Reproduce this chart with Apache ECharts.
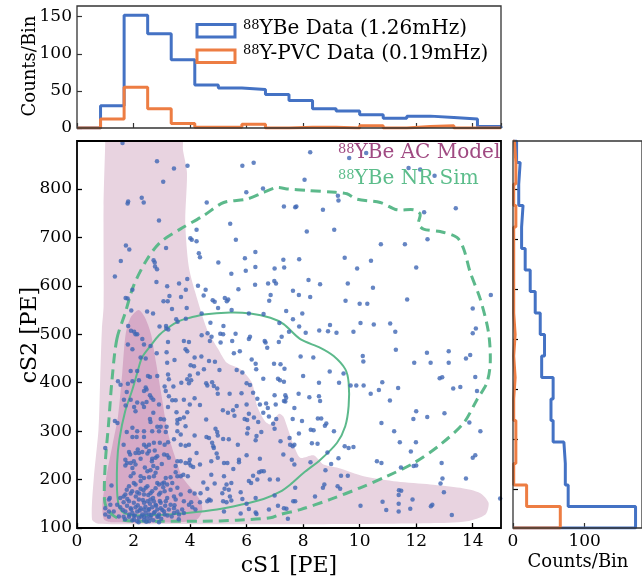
<!DOCTYPE html>
<html><head><meta charset="utf-8">
<script src="https://cdn.jsdelivr.net/npm/echarts@6/dist/echarts.min.js"></script>
<style>html,body{margin:0;padding:0;background:#fff}#c{width:642px;height:578px}</style>
</head><body><div id="c"></div>
<script>
// ---------------- DATA ----------------
const cs1TickLabels = [0, 2, 4, 6, 8, 10, 12, 14];
const cs2TickLabels = [100, 200, 300, 400, 500, 600, 700, 800];
const rightHistTicks = [200, 300, 400, 500, 600, 700, 800];

// Top histogram (cS1), 18 bins
const topEdges = [0,0.833,1.667,2.5,3.333,4.167,5,5.833,6.667,7.5,8.333,9.167,10,10.833,11.667,12.5,13.333,14.167,15];
const topYBe   = [0,30,152,127,92,58,54,52,45,37,26,23,18,13,16,14,12,2];
const topPVC   = [0,12,55,26,6,1,1,5,0,1,1,0,3,0,2,3,0,0];

// Right histogram (cS2), 18 bins, bottom to top
const rightEdges = [122,165.1,208.1,251.2,294.2,337.3,380.3,423.4,466.4,509.5,552.5,595.6,638.6,681.7,724.7,767.8,810.8,853.9,897];
const rightYBe   = [171,77,73,71,56,53,56,40,44,38,31,24,17,12,14,8,10,5];
const rightPVC   = [66,19,1,4,4,1,3,1,3,1,1,1,1,1,4,1,4,2];

// AC model region (outer, light) [cS1, cS2]
const acOuter = [[1.0,930],[3.66,930],[3.75,880],[3.89,834],[3.83,731],[3.95,641],[4.18,587],[4.6,510],[5.0,469],[5.3,441],[5.78,428],[6.19,400],[6.37,352],[6.66,320],[6.84,314],[7.0,326],[7.15,336],[7.3,330],[7.43,310],[7.66,272],[7.9,245],[8.37,250],[8.72,231],[9.25,224],[10.14,207],[11.32,196],[12.5,190],[13.56,183],[14.27,172],[14.56,152],[14.45,128],[13.8,114],[12.5,110],[8.0,108],[4.0,108],[0.75,109],[0.53,118],[0.59,200],[0.76,303],[0.82,407],[0.88,510],[0.94,558],[0.94,765],[1.0,900]];
// AC model region (inner, dark)
const acInner = [[2.18,550],[2.4,535],[2.62,500],[2.8,440],[3.0,370],[3.19,303],[3.45,250],[3.73,205],[4.1,178],[4.38,155],[4.43,135],[4.25,118],[3.6,112],[1.2,112],[0.95,118],[0.9,150],[1.05,210],[1.25,270],[1.45,330],[1.6,420],[1.72,500],[1.9,535]];
// NR sim contours
const nrInner = [[3.19,512],[3.6,527],[3.99,534],[4.48,541],[5.42,545],[6.13,543],[6.84,534],[7.31,521],[7.9,490],[8.61,472],[9.08,455],[9.49,428],[9.61,400],[9.61,352],[9.49,310],[9.2,276],[8.61,241],[8.02,214],[7.55,190],[7.19,175],[6.6,160],[5.79,148],[4.95,138],[3.9,131],[2.9,127],[1.9,127],[1.55,137],[1.43,165],[1.42,234],[1.5,283],[1.7,340],[1.96,386],[2.13,420],[2.3,452],[2.6,476],[2.9,498]];
const nrOuter = [[1.41,490],[1.71,545],[2.0,600],[2.48,655],[2.95,690],[3.65,717],[4.48,745],[5.19,772],[6.01,779],[6.6,793],[7.07,803],[7.43,800],[8.14,797],[9.14,793],[9.55,790],[9.9,779],[10.73,772],[11.32,757],[11.91,757],[12.14,748],[12.08,728],[12.26,717],[12.85,712],[13.44,700],[13.68,676],[13.91,628],[14.27,572],[14.56,503],[14.62,441],[14.5,400],[14.15,365],[13.68,317],[12.85,272],[11.91,234],[10.97,207],[10.02,183],[8.96,159],[7.9,138],[7.19,128],[6.84,121],[5.66,116],[4.48,114],[2.71,114],[1.65,116],[1.3,125],[1.06,140],[0.97,160],[1.0,234],[1.12,317],[1.24,407]];

// 88YBe data events [cS1, cS2]
const ybeEvents = [
[1.61,895],[2.83,857],[3.43,842],[3.91,848],[5.85,848],[6.25,854],[3.05,815],[2.29,782],[2.36,772],[1.79,770],[1.81,774],[2.9,735],[4.59,772],[5.99,793],[6.58,801],[7.32,764],[1.73,683],[1.85,675],[1.55,651],[1.34,619],[2.71,653],[2.75,648],[2.76,640],[2.83,634],[3.15,678],[2.81,608],[3.19,599],[3.61,605],[3.9,614],[3.85,592],[3.27,579],[3.06,568],[3.21,568],[3.36,552],[3.68,577],[3.88,554],[4.23,692],[4.31,667],[4.35,659],[4.06,695],[4.01,698],[4.23,716],[5.42,728],[5.62,695],[5.94,657],[6.31,670],[5.0,648],[5.46,625],[5.97,631],[6.31,639],[6.99,636],[7.3,654],[6.76,605],[6.98,610],[7.04,605],[6.3,602],[5.71,593],[4.28,600],[4.48,580],[4.55,592],[4.8,570],[4.87,567],[5.23,575],[5.3,568],[5.35,572],[4.99,554],[5.47,550],[1.72,575],[1.79,574],[1.96,592],[2.48,547],[2.69,543],[1.92,549],[6.8,569],[6.85,581],[6.08,543],[6.6,542],[7.16,523],[4.72,524],[5.18,517],[4.41,543],[3.85,532],[3.51,531],[3.56,526],[2.92,516],[3.15,517],[2.02,505],[1.91,507],[1.81,517],[4.62,502],[5.07,501],[3.16,512],[3.23,510],
[8.25,876],[9.63,864],[10.23,874],[11.73,843],[12.14,840],[12.65,827],[8.05,819],[7.72,762],[7.76,764],[8.70,757],[9.25,776],[9.23,786],[12.28,752],[13.40,760],[8.13,712],[9.10,716],[10.75,686],[11.60,686],[12.40,696],[7.86,655],[9.47,658],[9.91,636],[10.40,652],[12.0,638],[8.19,612],[8.60,603],[9.58,605],[10.47,596],[7.64,590],[7.85,581],[8.25,577],[9.50,569],[10.0,563],[10.27,563],[11.68,572],[14.64,581],[7.40,548],[7.97,543],[14.0,553],[7.64,531],[7.86,516],[8.95,519],[10.03,523],[10.50,520],[11.08,522],[8.57,508],[8.88,506],[9.18,503],[9.78,505],[11.26,505],[7.50,505],[8.09,503],[14.11,512],[14.0,502],[7.33,638],
[12.38,462],[13.15,465],[11.28,468],[10.11,455],[10.13,444],[8.36,452],[7.91,454],[13.91,457],[13.76,450],[11.93,441],[12.51,441],[13.15,441],[8.94,423],[9.43,419],[8.0,414],[14.09,412],[12.83,409],[12.92,411],[8.56,400],[9.27,400],[9.68,394],[9.88,394],[10.14,394],[10.8,401],[11.36,389],[10.68,385],[10.39,377],[13.31,388],[13.56,391],[14.15,383],[7.37,374],[7.84,377],[8.22,370],[8.56,372],[8.6,362],[7.4,369],[7.37,361],[11.07,363],[7.69,348],[12.0,341],[13.0,337],[7.63,325],[7.96,321],[8.52,326],[8.64,326],[8.82,316],[8.77,311],[11.9,325],[12.39,329],[10.77,317],[13.88,318],[14.27,300],[7.85,295],[8.27,303],[8.37,302],[9.09,300],[11.22,300],[7.52,286],[8.31,275],[8.51,274],[7.54,272],[7.63,269],[7.69,272],[9.47,269],[9.61,265],[9.78,267],[11.42,277],[11.99,277],[14.09,250],[14.0,245],[11.81,258],[7.60,241],[7.69,231],[8.86,256],[8.26,236],[9.25,244],[10.61,238],[10.77,234],[12.0,229],[11.91,228],[11.46,225],[12.9,234],[13.76,202],[8.79,219],[8.99,232],[9.34,208],[9.58,208],[12.93,202],[12.86,192],[8.75,190],[8.7,183],[9.22,186],[9.31,181],[7.72,183],[11.39,178],[11.47,177],[12.98,174],[8.42,165],[10.03,146],[10.81,154],[11.38,168],[11.38,150],[11.87,159],[12.57,148],[12.52,145],[7.72,155],[7.65,155],[10.94,137],[11.38,134],[11.79,140],[13.26,127],[7.41,140],[7.46,119],[14.97,161],
[2.07,500],[2.13,500],[2.31,490],[1.80,479],[1.96,469],[2.60,476],[2.82,461],[2.37,479],[2.25,452],[2.43,450],[3.17,463],[3.22,484],[3.78,486],[3.84,469],[3.19,441],[3.45,447],[1.90,424],[2.13,424],[2.19,405],[1.96,403],[2.51,414],[2.58,412],[2.84,414],[1.45,403],[1.54,396],[1.80,398],[3.22,417],[3.25,407],[3.69,400],[3.90,407],[2.43,390],[2.46,386],[2.37,383],[3.10,392],[3.14,383],[3.41,392],[2.58,374],[2.63,369],[2.70,365],[1.76,381],[1.66,365],[1.90,365],[2.13,359],[2.32,357],[2.46,360],[2.90,355],[3.25,372],[3.37,364],[3.49,364],[3.78,365],[1.72,353],[2.02,350],[2.07,341],[2.37,350],[3.22,350],[3.52,339],[3.78,328],[2.70,338],[2.58,325],[2.60,319],[2.96,325],[3.08,324],[1.34,321],[1.43,317],[1.96,307],[2.84,309],[2.96,309],[3.17,309],[3.55,323],[3.64,325],[3.55,316],[3.84,310],
[4.41,498],[4.70,486],[4.76,495],[5.17,500],[5.61,501],[5.08,483],[5.49,486],[6.12,495],[6.08,490],[6.64,486],[6.67,483],[6.73,472],[7.14,484],[7.24,495],[3.96,484],[3.90,465],[4.16,452],[4.40,454],[4.67,445],[4.88,443],[5.55,461],[5.76,465],[6.18,448],[6.32,439],[6.34,428],[6.97,439],[7.20,438],[7.34,429],[4.02,436],[4.14,434],[4.49,428],[5.04,426],[5.65,426],[5.85,421],[7.11,408],[7.18,405],[7.32,402],[6.59,408],[4.28,419],[3.99,415],[4.04,405],[3.96,399],[4.57,399],[4.61,394],[4.78,401],[4.84,393],[4.96,388],[6.0,399],[6.12,395],[6.23,379],[4.98,377],[5.40,377],[5.82,378],[6.99,374],[7.32,362],[6.38,367],[6.47,355],[6.69,357],[6.75,348],[7.03,355],[4.16,368],[3.99,355],[4.35,354],[5.65,352],[6.0,355],[5.16,343],[5.34,338],[5.52,343],[5.57,332],[6.08,336],[6.59,338],[6.79,330],[3.90,339],[5.93,325],[6.02,323],[6.26,328],[6.41,319],[7.05,325],[6.94,315],[4.57,324],[4.90,305],[6.05,306],[6.99,305],
[1.76,298],[2.13,300],[2.37,300],[1.96,288],[2.11,288],[2.37,288],[2.66,300],[2.90,300],[3.14,298],[3.55,300],[3.67,293],[1.0,265],[1.65,272],[2.37,272],[2.55,272],[2.72,276],[2.93,276],[3.10,272],[3.22,277],[3.43,283],[3.67,272],[3.84,270],[1.84,257],[2.07,255],[2.19,255],[2.31,257],[2.49,254],[2.55,259],[2.84,248],[3.08,252],[3.19,250],[3.25,245],[1.71,241],[1.77,234],[1.90,234],[2.01,238],[2.07,231],[2.25,243],[2.66,243],[2.78,245],[3.55,238],[3.67,238],[3.84,234],[1.71,229],[1.96,224],[2.70,228],[2.84,224],[3.49,228],[2.49,217],[2.60,219],[2.78,214],[2.72,207],[3.49,215],[3.55,207],[1.90,207],[2.25,207],[2.37,203],[3.14,203],[3.31,205],[3.67,207],[3.76,210],[2.01,193],[2.07,190],[2.43,183],[2.49,186],[2.84,193],[2.90,190],[3.02,192],[3.08,194],[3.19,190],[3.37,193],[1.84,186],[1.76,179],[2.25,181],[3.31,179],[3.55,183],[1.22,188],[1.71,169],[1.90,171],[2.13,174],[2.37,169],[2.60,172],[2.90,169],[3.10,176],[3.19,162],[3.43,165],[3.67,169],[1.16,162],[1.53,162],[1.65,165],[1.65,153],[1.84,155],[2.01,152],[2.19,159],[2.37,152],[2.49,155],[2.60,159],[2.72,155],[2.78,148],[2.96,152],[3.14,155],[3.31,148],[3.49,159],[3.78,155],[1.13,159],[1.18,148],[1.42,148],[1.53,143],[1.77,146],[1.90,141],[2.07,143],[2.25,141],[2.37,138],[2.55,139],[2.66,143],[2.84,138],[2.96,141],[3.08,134],[3.25,138],[3.43,141],[3.55,134],[3.72,138],[1.0,141],[1.13,134],[1.30,134],[1.71,134],[1.96,131],[2.13,134],[2.31,128],[2.43,131],[2.55,128],[2.72,131],[2.90,128],[3.10,128],[3.43,131],[3.61,128],[3.78,131],[1.0,128],[1.13,123],[1.48,124],[1.65,123],[1.84,123],[2.01,125],[2.19,121],[2.37,123],[2.60,121],[2.84,123],[2.98,119],[1.96,116],[2.13,114],[2.37,116],[2.55,114],
[1.85,128],[1.92,138],[2.05,126],[2.15,147],[2.22,136],[2.28,124],[2.33,158],[2.42,144],[2.47,121],[2.52,137],[2.58,150],[2.63,127],[2.69,162],[2.75,133],[2.8,146],[2.88,124],[2.93,156],[3.02,137],[3.12,146],[3.2,126],[1.78,160],[1.95,176],[2.08,165],[2.2,171],[2.35,178],[2.52,168],[2.66,176],[2.78,182],[2.95,173],[3.05,184],[1.62,137],[1.7,118],[2.02,117],[2.18,112],[2.45,113],[2.7,116],[2.9,112],[3.35,124],[3.45,147],[3.6,118],[2.25,197],[2.55,205],[2.0,213],[2.4,225],[2.65,238],[1.88,252],[2.15,262],[2.45,268],[2.75,260],[3.0,232],
[4.16,291],[4.58,288],[4.67,286],[4.96,298],[4.98,291],[5.17,284],[5.37,283],[5.69,272],[6.02,295],[6.35,290],[6.52,298],[6.32,281],[7.20,279],[3.96,272],[4.78,276],[4.82,269],[4.84,265],[4.94,254],[4.98,245],[4.75,238],[4.23,255],[5.20,234],[5.32,234],[5.73,241],[5.73,236],[6.0,250],[6.47,243],[7.30,252],[3.99,241],[3.96,234],[4.02,229],[4.11,226],[4.35,231],[3.92,207],[4.75,210],[5.20,207],[5.53,222],[6.23,208],[6.44,215],[6.52,217],[6.61,217],[6.08,197],[6.16,193],[6.38,200],[6.82,200],[7.11,200],[4.47,194],[4.87,192],[5.29,190],[5.46,193],[5.22,181],[5.37,179],[4.61,181],[4.37,172],[4.16,171],[3.99,176],[5.14,172],[5.79,174],[5.85,160],[5.41,165],[4.67,159],[4.73,157],[5.17,155],[5.29,153],[5.46,157],[6.0,150],[6.32,162],[6.99,167],[3.96,148],[4.04,153],[4.35,153],[4.61,155],[4.08,143],[4.19,138],[5.20,134],[6.08,139],[6.32,132],[6.35,129],[6.79,138],[7.11,146],[7.32,141],[5.79,130]
];

// ---------------- STYLE ----------------
const SERIF = 'DejaVu Serif';
const BLUE_H = '#4472c4', ORANGE_H = '#ed7d43', PT = '#3f66b4';
const GREEN = '#5cb98b', LIGHT = '#e8d3e0', DARK = '#d6aac7';

function histTop(edges, counts) {
  const d = [[edges[0], 0]];
  counts.forEach((c, i) => { d.push([edges[i], c]); d.push([edges[i + 1], c]); });
  d.push([edges[edges.length - 1], 0]);
  return d;
}
function histRight(edges, counts) {
  const d = [[0, edges[0]]];
  counts.forEach((c, i) => { d.push([c, edges[i]]); d.push([c, edges[i + 1]]); });
  d.push([0, edges[edges.length - 1]]);
  return d;
}
function shapeSeries(verts, style, z, smooth) {
  return {
    type: 'custom', xAxisIndex: 0, yAxisIndex: 0, z: z, silent: true,
    data: verts,
    renderItem: function (params, api) {
      if (params.dataIndex !== 0) return null;
      const pts = verts.map(v => api.coord(v));
      const cs = params.coordSys;
      return {
        type: 'polygon', shape: { points: pts, smooth: smooth },
        style: style,
        clipPath: { type: 'rect', shape: { x: cs.x, y: cs.y, width: cs.width, height: cs.height } }
      };
    }
  };
}
const tickLbl = { fontFamily: SERIF, fontSize: 17, color: '#000' };
function richLabel(x, y, sup, main, color) {
  return { type: 'text', x: x, y: y, z: 10, style: {
    text: '{s|' + sup + '}{m|' + main + '}',
    rich: { s: { fontFamily: SERIF, fontSize: 13, verticalAlign: 'top', fill: color },
            m: { fontFamily: SERIF, fontSize: 20, fill: color } } } };
}

const chart = echarts.init(document.getElementById('c'), null, { renderer: 'canvas' });
chart.setOption({
  animation: false,
  backgroundColor: '#fff',
  grid: [
    { left: 77, top: 141, width: 424, height: 387, show: true, z: 5, backgroundColor: 'transparent', borderColor: '#000', borderWidth: 1.8 },
    { left: 77, top: 6, width: 424, height: 122, show: true, z: 5, backgroundColor: 'transparent', borderColor: '#333', borderWidth: 1.3 },
    { left: 513, top: 141, width: 131, height: 387, show: true, z: 5, backgroundColor: 'transparent', borderColor: '#333', borderWidth: 1.3 }
  ],
  xAxis: [
    { type: 'value', gridIndex: 0, min: 0, max: 15, interval: 2,
      axisLine: { show: false }, splitLine: { show: false },
      axisTick: { inside: true, length: 5, lineStyle: { color: '#000', width: 1.3 } },
      axisLabel: Object.assign({ margin: 5, showMaxLabel: false }, tickLbl) },
    { type: 'value', gridIndex: 1, min: 0, max: 15, interval: 2,
      axisLine: { show: false }, splitLine: { show: false },
      axisTick: { inside: true, length: 5, lineStyle: { color: '#333', width: 1.2 } },
      axisLabel: { show: false } },
    { type: 'value', gridIndex: 2, min: 0, max: 180, interval: 100,
      axisLine: { show: false }, splitLine: { show: false },
      axisTick: { inside: true, length: 5, lineStyle: { color: '#333', width: 1.2 } },
      axisLabel: Object.assign({ margin: 5, showMaxLabel: false }, tickLbl) }
  ],
  yAxis: [
    { type: 'value', gridIndex: 0, min: 100, max: 899, interval: 100,
      axisLine: { show: false }, splitLine: { show: false },
      axisTick: { inside: true, length: 5, lineStyle: { color: '#000', width: 1.3 } },
      axisLabel: Object.assign({ margin: 5, showMaxLabel: false }, tickLbl) },
    { type: 'value', gridIndex: 1, min: 0, max: 164.4, interval: 50,
      axisLine: { show: false }, splitLine: { show: false },
      axisTick: { inside: true, length: 5, lineStyle: { color: '#333', width: 1.2 } },
      axisLabel: Object.assign({ margin: 5, showMaxLabel: false }, tickLbl) },
    { type: 'value', gridIndex: 2, min: 122, max: 897,
      axisLine: { show: false }, splitLine: { show: false },
      axisTick: { inside: true, length: 5, customValues: rightHistTicks, lineStyle: { color: '#000', width: 1.2 } },
      axisLabel: { show: false } }
  ],
  series: [
    shapeSeries(acOuter, { fill: LIGHT, stroke: null }, 1, 0.25),
    shapeSeries(acInner, { fill: DARK, stroke: null }, 1, 0.25),
    shapeSeries(nrInner, { fill: null, stroke: GREEN, lineWidth: 2 }, 2, 0.3),
    shapeSeries(nrOuter, { fill: null, stroke: GREEN, lineWidth: 3, lineDash: [10, 6] }, 2, 0.3),
    { type: 'scatter', xAxisIndex: 0, yAxisIndex: 0, z: 3, data: ybeEvents, symbolSize: 4.5,
      itemStyle: { color: PT }, silent: true },
    { type: 'line', xAxisIndex: 1, yAxisIndex: 1, data: histTop(topEdges, topYBe), symbol: 'none',
      lineStyle: { color: BLUE_H, width: 3 }, z: 3, silent: true },
    { type: 'line', xAxisIndex: 1, yAxisIndex: 1, data: histTop(topEdges, topPVC), symbol: 'none',
      lineStyle: { color: ORANGE_H, width: 3 }, z: 4, silent: true },
    { type: 'line', xAxisIndex: 2, yAxisIndex: 2, data: histRight(rightEdges, rightYBe), symbol: 'none',
      lineStyle: { color: BLUE_H, width: 3 }, z: 3, silent: true },
    { type: 'line', xAxisIndex: 2, yAxisIndex: 2, data: histRight(rightEdges, rightPVC), symbol: 'none',
      lineStyle: { color: ORANGE_H, width: 3 }, z: 4, silent: true }
  ],
  graphic: [
    { type: 'text', x: 30, y: 335, rotation: Math.PI / 2, style: { text: 'cS2 [PE]', font: '22px "DejaVu Serif"', fill: '#000', align: 'center', verticalAlign: 'middle' } },
    { type: 'text', x: 289, y: 566, style: { text: 'cS1 [PE]', font: '22px "DejaVu Serif"', fill: '#000', align: 'center', verticalAlign: 'middle' } },
    { type: 'text', x: 30, y: 66, rotation: Math.PI / 2, style: { text: 'Counts/Bin', font: '18px "DejaVu Serif"', fill: '#000', align: 'center', verticalAlign: 'middle' } },
    { type: 'text', x: 578, y: 562, style: { text: 'Counts/Bin', font: '18px "DejaVu Serif"', fill: '#000', align: 'center', verticalAlign: 'middle' } },
    { type: 'rect', shape: { x: 197, y: 24.5, width: 38, height: 12.5 }, style: { fill: 'none', stroke: BLUE_H, lineWidth: 3 }, z: 10 },
    { type: 'rect', shape: { x: 197, y: 50, width: 38, height: 12.5 }, style: { fill: 'none', stroke: ORANGE_H, lineWidth: 3 }, z: 10 },
    richLabel(243, 19, '88', 'YBe Data (1.26mHz)', '#000'),
    richLabel(243, 44, '88', 'Y-PVC Data (0.19mHz)', '#000'),
    richLabel(338, 143, '88', 'YBe AC Model', '#a04a82'),
    richLabel(338, 169, '88', 'YBe NR Sim', '#5cbd8b')
  ]
});
</script></body></html>
